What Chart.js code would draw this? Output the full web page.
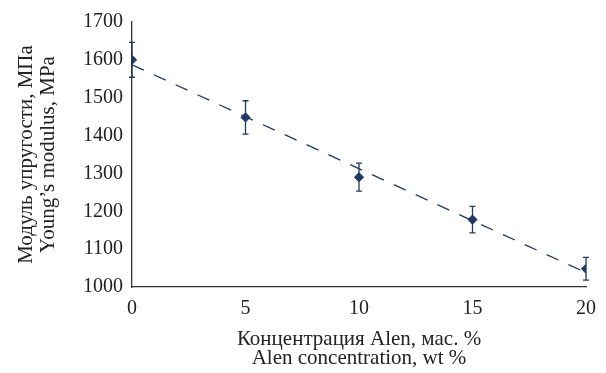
<!DOCTYPE html>
<html>
<head>
<meta charset="utf-8">
<script src="https://cdn.jsdelivr.net/npm/chart.js@4"></script>
<style>
  html, body { margin: 0; padding: 0; background: #fff; }
  #wrap { width: 606px; height: 373px; }
</style>
</head>
<body>
<div id="wrap"><canvas id="modulusChart"></canvas></div>
<script>
// values
const concentration = [0, 5, 10, 15, 20];
const modulus = [1600, 1448, 1290, 1178, 1048];
const modulusError = [46, 44, 37, 35, 30];
// dashed trend line, end points
const trendX = [0, 20];
const trendY = [1587, 1038];
const yTicks = [1000, 1100, 1200, 1300, 1400, 1500, 1600, 1700];

const navy = '#1f3864';
const serif = "'Liberation Serif', 'Times New Roman', serif";

// vertical error bars with small caps
const errorBars = {
    id: 'errorBars',
    afterDatasetsDraw(chart) {
        const ctx = chart.ctx;
        const xs = chart.scales.x;
        const ys = chart.scales.y;
        ctx.save();
        ctx.strokeStyle = navy;
        ctx.lineWidth = 1.3;
        concentration.forEach((c, i) => {
            const px = xs.getPixelForValue(c);
            const top = ys.getPixelForValue(modulus[i] + modulusError[i]);
            const bot = ys.getPixelForValue(modulus[i] - modulusError[i]);
            ctx.beginPath();
            ctx.moveTo(px, top);
            ctx.lineTo(px, bot);
            ctx.moveTo(px - 3, top);
            ctx.lineTo(px + 3, top);
            ctx.moveTo(px - 3, bot);
            ctx.lineTo(px + 3, bot);
            ctx.stroke();
        });
        ctx.restore();
    }
};

const ctx = document.getElementById('modulusChart').getContext('2d');
new Chart(ctx, {
    type: 'scatter',
    data: {
        datasets: [{
            label: 'trend',
            type: 'line',
            data: trendX.map((x, i) => ({ x: x, y: trendY[i] })),
            borderColor: navy,
            borderWidth: 1.3,
            borderDash: [13, 11],
            pointRadius: 0,
            fill: false,
            order: 2
        }, {
            label: 'modulus',
            data: concentration.map((x, i) => ({ x: x, y: modulus[i] })),
            backgroundColor: navy,
            borderColor: navy,
            pointStyle: 'rectRot',
            pointRadius: 4.6,
            order: 1
        }]
    },
    options: {
        responsive: true,
        maintainAspectRatio: false,
        animation: false,
        layout: { padding: { top: 22, right: 14, left: 0, bottom: 0 } },
        plugins: {
            legend: { display: false },
            tooltip: { enabled: false }
        },
        scales: {
            x: {
                type: 'linear',
                min: 0,
                max: 20,
                grid: { display: false, drawTicks: false },
                border: { display: true, color: '#333', width: 1.3 },
                ticks: {
                    stepSize: 5,
                    padding: 10,
                    color: '#222',
                    font: { family: serif, size: 20 },
                    callback: v => String(v)
                },
                title: {
                    display: true,
                    text: ['Концентрация Alen, мас. %', 'Alen concentration, wt %'],
                    color: '#222',
                    font: { family: serif, size: 21, lineHeight: 0.92 },
                    padding: { top: 0, bottom: 5 }
                },
                afterFit(scale) { scale.height = 86; }
            },
            y: {
                min: 1000,
                max: 1700,
                grid: { display: false, drawTicks: false },
                border: { display: true, color: '#333', width: 1.3 },
                afterBuildTicks(scale) { scale.ticks = yTicks.map(v => ({ value: v })); },
                ticks: {
                    padding: 9,
                    color: '#222',
                    font: { family: serif, size: 20 },
                    callback: v => String(v)
                },
                title: {
                    display: true,
                    text: ['Модуль упругости, МПа', 'Young’s modulus, MPa'],
                    color: '#222',
                    font: { family: serif, size: 21, lineHeight: 1.05 },
                    padding: { top: 15, bottom: 0 }
                },
                afterFit(scale) { scale.width = 132; }
            }
        }
    },
    plugins: [errorBars]
});
</script>
</body>
</html>
